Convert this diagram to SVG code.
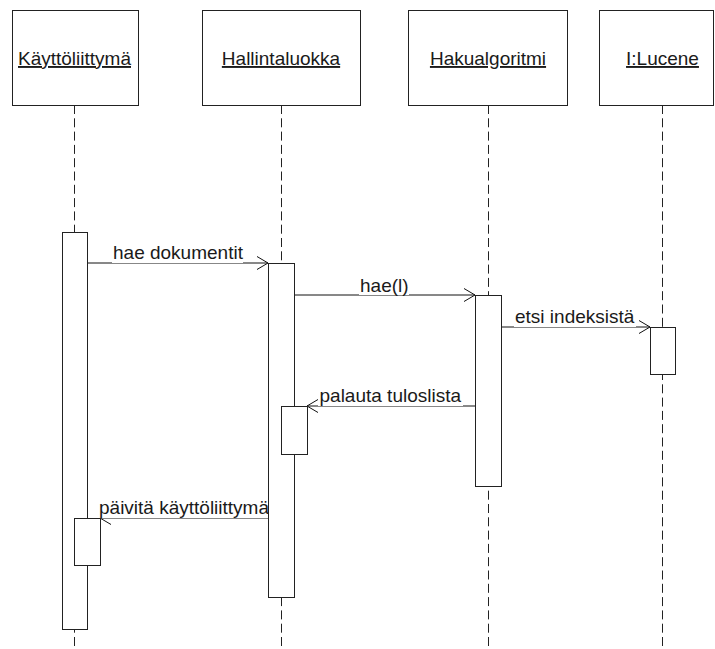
<svg xmlns="http://www.w3.org/2000/svg" width="715" height="649" viewBox="0 0 715 649">
  <style>
    .head { fill: #fff; stroke: #222; stroke-width: 1; }
    .bar { fill: #fff; stroke: #222; stroke-width: 1; }
    .life { stroke: #222; stroke-width: 1; stroke-dasharray: 9 4.3; fill: none; }
    .msg { stroke: #111; stroke-width: 1; fill: none; marker-end: url(#open); }
    .name { font-family: "Liberation Sans", Arial, sans-serif; font-size: 19px; fill: #1a1a1a; text-anchor: middle; text-decoration: underline; }
    .lbl { font-family: "Liberation Sans", Arial, sans-serif; font-size: 19px; fill: #1a1a1a; }
    .lblbg { fill: #fff; }
  </style>
  <defs>
    <marker id="open" viewBox="-12 -8 13 16" refX="0" refY="0" markerWidth="13" markerHeight="16" markerUnits="userSpaceOnUse" orient="auto">
      <path d="M-11,-6.5 L0,0 L-11,6.5" fill="none" stroke="#111" stroke-width="1"/>
    </marker>
  </defs>

  <rect width="715" height="649" fill="#fff"/>

  <!-- messages -->
  <g id="connectors">
    <line class="msg" x1="87" y1="263" x2="268" y2="263"/>
    <rect class="lblbg" x="112" y="244" width="131" height="19"/>
    <text class="lbl" x="113" y="259">hae dokumentit</text>

    <line class="msg" x1="294" y1="295" x2="475" y2="295"/>
    <rect class="lblbg" x="359" y="276" width="50" height="19"/>
    <text class="lbl" x="360" y="292">hae(l)</text>

    <line class="msg" x1="501" y1="327" x2="650" y2="327"/>
    <rect class="lblbg" x="514" y="308" width="122" height="19"/>
    <text class="lbl" x="515" y="323">etsi indeksistä</text>

    <line class="msg" x1="475" y1="406" x2="307" y2="406"/>
    <rect class="lblbg" x="318" y="387" width="145" height="19"/>
    <text class="lbl" x="319.5" y="401.5">palauta tuloslista</text>

    <line class="msg" x1="268" y1="518" x2="100" y2="518"/>
    <rect class="lblbg" x="98" y="499" width="170" height="19"/>
    <text class="lbl" x="99" y="513.5">päivitä käyttöliittymä</text>
  </g>

  <!-- participants -->
  <g id="kayttoliittyma">
    <line class="life" x1="74.5" y1="105" x2="74.5" y2="649"/>
    <rect class="head" x="12.5" y="10.5" width="126" height="95"/>
    <text class="name" x="74.5" y="65">Käyttöliittymä</text>
    <rect class="bar" x="62.5" y="232.5" width="25" height="397"/>
    <rect class="bar" x="74.5" y="518.5" width="26" height="47"/>
  </g>

  <g id="hallintaluokka">
    <line class="life" x1="281.5" y1="105" x2="281.5" y2="649"/>
    <rect class="head" x="202.5" y="10.5" width="158" height="95"/>
    <text class="name" x="281" y="65">Hallintaluokka</text>
    <rect class="bar" x="268.5" y="263.5" width="26" height="334"/>
    <rect class="bar" x="281.5" y="406.5" width="26" height="48"/>
  </g>

  <g id="hakualgoritmi">
    <line class="life" x1="488.5" y1="105" x2="488.5" y2="649"/>
    <rect class="head" x="408.5" y="10.5" width="159" height="95"/>
    <text class="name" x="488" y="65">Hakualgoritmi</text>
    <rect class="bar" x="475.5" y="295.5" width="26" height="191"/>
  </g>

  <g id="lucene">
    <line class="life" x1="662.5" y1="105" x2="662.5" y2="649"/>
    <rect class="head" x="599.5" y="10.5" width="114" height="95"/>
    <text class="name" x="662.5" y="65">I:Lucene</text>
    <rect class="bar" x="650.5" y="327.5" width="25" height="47"/>
  </g>
</svg>
